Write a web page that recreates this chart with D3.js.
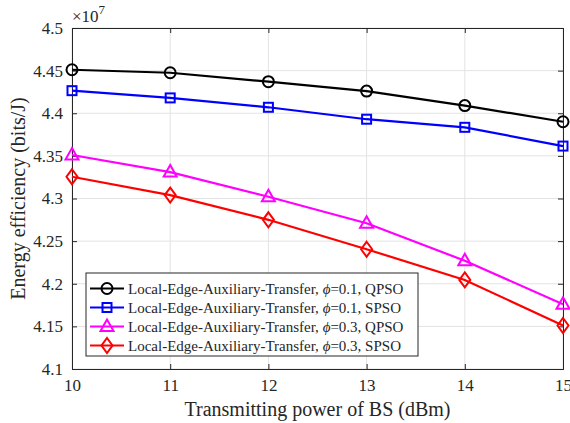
<!DOCTYPE html>
<html>
<head>
<meta charset="utf-8">
<script src="https://cdn.jsdelivr.net/npm/d3@7"></script>
<style>
  html, body { margin: 0; padding: 0; background: #fff; }
  svg { display: block; }
</style>
</head>
<body>
<svg id="chart" width="570" height="423"></svg>
<script>
// Transmitting power of BS (dBm)
const powers = [10, 11, 12, 13, 14, 15];
const xTicks = [10, 11, 12, 13, 14, 15];
const yTicks = [4.1, 4.15, 4.2, 4.25, 4.3, 4.35, 4.4, 4.45, 4.5];

// Energy efficiency, in units of 1e7 bits/J
const effPhi01QPSO = [4.451, 4.4475, 4.437, 4.426, 4.409, 4.390];
const effPhi01SPSO = [4.4265, 4.418, 4.407, 4.393, 4.3835, 4.3615];
const effPhi03QPSO = [4.351, 4.331, 4.302, 4.271, 4.227, 4.176];
const effPhi03SPSO = [4.3255, 4.304, 4.275, 4.2405, 4.2045, 4.151];

const seriesPrefix = "Local-Edge-Auxiliary-Transfer, ";
const seriesPhi = ["0.1", "0.1", "0.3", "0.3"];
const seriesAlgo = ["QPSO", "SPSO", "QPSO", "SPSO"];
const seriesColors = ["#000000", "#0000ff", "#ff00ff", "#ff0000"];
const seriesMarkers = ["circle", "square", "triangle", "diamond"];
const seriesValues = [effPhi01QPSO, effPhi01SPSO, effPhi03QPSO, effPhi03SPSO];

const series = seriesValues.map((values, i) => ({
  phi: seriesPhi[i], algo: seriesAlgo[i],
  color: seriesColors[i], marker: seriesMarkers[i], values
}));

const FONT = "'Liberation Serif', 'Times New Roman', serif";
const axisColor = "#262626";

const svg = d3.select("#chart");
const margin = { left: 72, right: 7, top: 28, bottom: 54 };
const W = 570, H = 423;
const plotW = W - margin.left - margin.right;
const plotH = H - margin.top - margin.bottom;

const x = d3.scaleLinear().domain([10, 15]).range([0, plotW]);
const y = d3.scaleLinear().domain([4.1, 4.5]).range([plotH, 0]);

const g = svg.append("g").attr("transform", `translate(${margin.left},${margin.top})`);

// grid
g.append("g").selectAll("line").data(xTicks).join("line")
  .attr("x1", d => x(d)).attr("x2", d => x(d))
  .attr("y1", 0).attr("y2", plotH)
  .attr("stroke", "#e3e3e3").attr("stroke-width", 1);
g.append("g").selectAll("line").data(yTicks).join("line")
  .attr("x1", 0).attr("x2", plotW)
  .attr("y1", d => y(d)).attr("y2", d => y(d))
  .attr("stroke", "#e3e3e3").attr("stroke-width", 1);

// axes
const xAxis = d3.axisBottom(x).tickValues(xTicks).tickSize(-5).tickPadding(10).tickFormat(d3.format("d"));
const xTop = d3.axisTop(x).tickValues(xTicks).tickSize(-5).tickFormat("");
const yAxis = d3.axisLeft(y).tickValues(yTicks).tickSize(-5).tickPadding(9).tickFormat(d => String(+d.toFixed(2)));
const yRight = d3.axisRight(y).tickValues(yTicks).tickSize(-5).tickFormat("");

function styleAxis(sel) {
  sel.attr("font-family", FONT).attr("font-size", 17);
  sel.select(".domain").attr("stroke", axisColor).attr("stroke-width", 1);
  sel.selectAll(".tick line").attr("stroke", axisColor).attr("stroke-width", 1);
  sel.selectAll(".tick text").attr("fill", axisColor);
}
g.append("g").attr("transform", `translate(0,${plotH})`).call(xAxis).call(styleAxis);
g.append("g").call(xTop).call(styleAxis);
g.append("g").call(yAxis).call(styleAxis);
g.append("g").attr("transform", `translate(${plotW},0)`).call(yRight).call(styleAxis);

// exponent label
const expo = svg.append("text").attr("x", margin.left).attr("y", margin.top - 6)
  .attr("font-family", FONT).attr("font-size", 17).attr("fill", axisColor);
expo.append("tspan").text("\u00D710");
expo.append("tspan").attr("dy", -8).attr("font-size", 13).text("7");

// axis titles
svg.append("text")
  .attr("x", margin.left + plotW / 2).attr("y", 416)
  .attr("text-anchor", "middle")
  .attr("font-family", FONT).attr("font-size", 20).attr("fill", axisColor)
  .text("Transmitting power of BS (dBm)");
svg.append("text")
  .attr("transform", `translate(25,${margin.top + plotH / 2}) rotate(-90)`)
  .attr("text-anchor", "middle")
  .attr("font-family", FONT).attr("font-size", 20).attr("fill", axisColor)
  .text("Energy efficiency (bits/J)");

// marker drawing
function drawMarker(sel, type, color) {
  if (type === "circle") {
    sel.append("circle").attr("r", 5.5);
  } else if (type === "square") {
    sel.append("rect").attr("x", -4.5).attr("y", -4.5).attr("width", 9).attr("height", 9);
  } else if (type === "triangle") {
    sel.append("path").attr("d", "M0,-7 L6.5,4.5 L-6.5,4.5 Z");
  } else if (type === "diamond") {
    sel.append("path").attr("d", "M0,-7.5 L5.5,0 L0,7.5 L-5.5,0 Z");
  }
  sel.selectAll("*").attr("fill", "none").attr("stroke", color).attr("stroke-width", 2);
}

const line = d3.line().x((d, i) => x(powers[i])).y(d => y(d));

const sg = g.selectAll("g.series").data(series).join("g").attr("class", "series");
sg.append("path")
  .attr("d", d => line(d.values))
  .attr("fill", "none")
  .attr("stroke", d => d.color)
  .attr("stroke-width", 2.2);
sg.each(function (s) {
  d3.select(this).selectAll("g.mk").data(s.values).join("g")
    .attr("class", "mk")
    .attr("transform", (d, i) => `translate(${x(powers[i])},${y(d)})`)
    .each(function () { drawMarker(d3.select(this), s.marker, s.color); });
});

// legend
const lg = svg.append("g").attr("transform", "translate(86,273)");
lg.append("rect").attr("width", 332).attr("height", 83)
  .attr("fill", "#fff").attr("stroke", axisColor).attr("stroke-width", 1);
const rows = lg.selectAll("g.row").data(series).join("g")
  .attr("transform", (d, i) => `translate(0,${15.5 + i * 19})`);
rows.append("line").attr("x1", 4).attr("x2", 38).attr("y1", 0).attr("y2", 0)
  .attr("stroke", d => d.color).attr("stroke-width", 2.2);
rows.each(function (s) {
  const m = d3.select(this).append("g").attr("transform", "translate(21,0)");
  drawMarker(m, s.marker, s.color);
});
const lt = rows.append("text").attr("x", 42).attr("y", 5.5)
  .attr("font-family", FONT).attr("font-size", 15).attr("fill", axisColor);
lt.append("tspan").text(seriesPrefix);
lt.append("tspan").attr("font-style", "italic").text("\u03D5");
lt.append("tspan").text(d => `=${d.phi}, ${d.algo}`);
</script>
</body>
</html>
